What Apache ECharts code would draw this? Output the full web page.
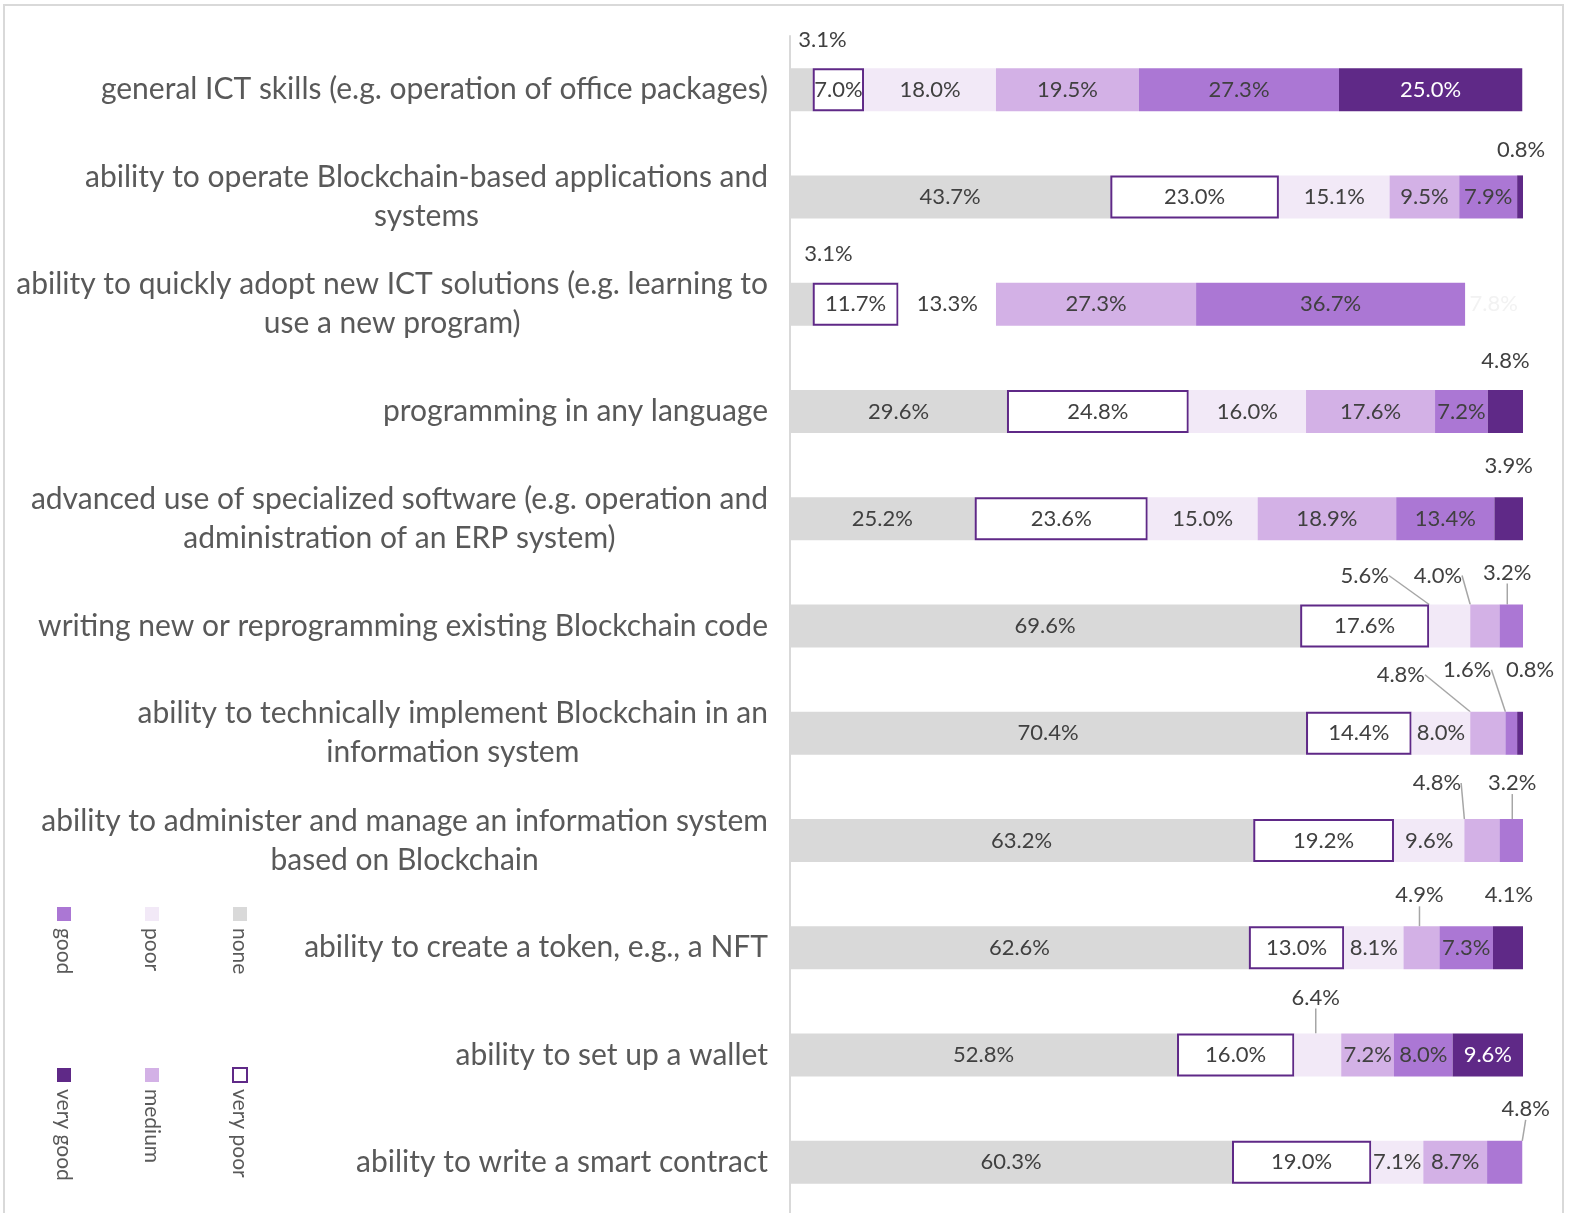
<!DOCTYPE html>
<html>
<head>
<meta charset="utf-8">
<title>ICT skills</title>
<script src="https://cdn.jsdelivr.net/npm/echarts@6/dist/echarts.min.js"></script>
<style>
  html, body { margin: 0; padding: 0; background: #fff; overflow: hidden; }
  #chart { width: 1569px; height: 1222px; }
</style>
</head>
<body>
<div id="chart"></div>
<script>
// categories, top to bottom
const categories = [
  'general ICT skills (e.g. operation of office packages)',
  'ability to operate Blockchain-based applications and\nsystems',
  'ability to quickly adopt new ICT solutions (e.g. learning to\nuse a new program)',
  'programming in any language',
  'advanced use of specialized software (e.g. operation and\nadministration of an ERP system)',
  'writing new or reprogramming existing Blockchain code',
  'ability to technically implement Blockchain in an\ninformation system',
  'ability to administer and manage an information system\nbased on Blockchain',
  'ability to create a token, e.g., a NFT',
  'ability to set up a wallet',
  'ability to write a smart contract'
]
const seriesNames = ['none', 'very poor', 'poor', 'medium', 'good', 'very good']

// shares in %
const noneData = [3.1, 43.7, 3.1, 29.6, 25.2, 69.6, 70.4, 63.2, 62.6, 52.8, 60.3]
const veryPoorData = [7.0, 23.0, 11.7, 24.8, 23.6, 17.6, 14.4, 19.2, 13.0, 16.0, 19.0]
const poorData = [18.0, 15.1, 13.3, 16.0, 15.0, 5.6, 8.0, 9.6, 8.1, 6.4, 7.1]
const mediumData = [19.5, 9.5, 27.3, 17.6, 18.9, 4.0, 4.8, 4.8, 4.9, 7.2, 8.7]
const goodData = [27.3, 7.9, 36.7, 7.2, 13.4, 3.2, 1.6, 3.2, 7.3, 8.0, 4.8]
const veryGoodData = [25.0, 0.8, 7.8, 4.8, 3.9, 0, 0.8, 0, 4.1, 9.6, 0]

const colors = ['#d9d9d9', '#ffffff', '#f2e9f7', '#d3b1e6', '#ab77d4', '#5f2987']

// labels moved out of small segments: 'series-row': [dx, dy, leader line]
const moved = {
  '0-0': [21, -28, false],
  '5-1': [1, -26, false],
  '0-2': [27, -29, false],
  '5-3': [0, -29, false],
  '5-4': [0, -31, false],
  '2-5': [-85, -29, true],
  '3-5': [-47, -29, true],
  '4-5': [-4, -32, true],
  '3-6': [-87, -37, true],
  '4-6': [-44, -42, true],
  '5-6': [10, -42, false],
  '3-7': [-45, -36, true],
  '4-7': [1, -36, true],
  '3-8': [-2, -31, true],
  '5-8': [1, -31, false],
  '2-9': [-2, -36, true],
  '4-10': [21, -32, true]
}

const allData = [noneData, veryPoorData, poorData, mediumData, goodData, veryGoodData]

const chart = echarts.init(document.getElementById('chart'))

const series = seriesNames.map(function (name, s) {
  return {
    name: name,
    type: 'bar',
    stack: 'total',
    barWidth: 43,
    itemStyle: s === 1
      ? { color: '#ffffff', borderColor: '#5f2987', borderWidth: 2 }
      : { color: colors[s] },
    label: {
      show: true,
      position: 'inside',
      fontFamily: 'Lato',
      fontSize: 22,
      color: s === 5 ? '#ffffff' : '#404040',
      formatter: function (p) {
        return p.value ? p.value.toFixed(1) + '%' : ''
      }
    },
    labelLine: {
      show: false,
      lineStyle: { color: '#a6a6a6', width: 1.5 }
    },
    data: allData[s].map(function (v, i) {
      const item = { value: v }
      const m = moved[s + '-' + i]
      if (m) {
        item.label = { color: '#404040' }
        item.labelLine = { show: m[2] }
      }
      // the "adopt new ICT" row is drawn without fill for poor / very good
      if (i === 2 && s === 2) item.itemStyle = { color: '#ffffff' }
      if (i === 2 && s === 5) {
        item.itemStyle = { color: 'rgba(0,0,0,0)' }
        item.label = { color: '#f2f2f2' }
      }
      return item
    }),
    labelLayout: function (params) {
      const m = moved[params.seriesIndex + '-' + params.dataIndex]
      if (!m) return {}
      return {
        x: params.rect.x + params.rect.width / 2 + m[0],
        y: params.rect.y + m[1],
        align: 'center',
        verticalAlign: 'middle'
      }
    }
  }
})

// legend drawn by hand, text runs downwards
const legendCols = [64, 152, 240]
const legendRows = [914, 1075]
const legendOrder = [4, 2, 0, 5, 3, 1]
const legendItems = []
legendOrder.forEach(function (s, k) {
  const x = legendCols[k % 3]
  const y = legendRows[Math.floor(k / 3)]
  legendItems.push({
    type: 'rect',
    shape: { x: x - 7, y: y - 7, width: 14, height: 14 },
    style: s === 1
      ? { fill: '#ffffff', stroke: '#5f2987', lineWidth: 2 }
      : { fill: colors[s] }
  })
  legendItems.push({
    type: 'text',
    x: x,
    y: y + 14,
    rotation: -Math.PI / 2,
    style: {
      text: seriesNames[s],
      fontFamily: 'Lato',
      fontSize: 21,
      fill: '#595959',
      align: 'left',
      verticalAlign: 'middle'
    }
  })
})

const option = {
  animation: false,
  backgroundColor: '#ffffff',
  grid: {
    left: 790,
    top: 36,
    width: 733,
    height: 1180,
    containLabel: false
  },
  xAxis: {
    type: 'value',
    min: 0,
    max: 100,
    show: false
  },
  yAxis: {
    type: 'category',
    inverse: true,
    data: categories,
    axisLine: { show: true, lineStyle: { color: '#d9d9d9', width: 2 } },
    axisTick: { show: false },
    axisLabel: {
      margin: 22,
      align: 'right',
      fontFamily: 'Lato',
      fontSize: 30,
      lineHeight: 39,
      color: '#595959',
      formatter: function (v) {
        return v.split('\n').map(function (l) { return '{c|' + l + '}' }).join('\n')
      },
      rich: {
        c: { align: 'center', fontFamily: 'Lato', fontSize: 30, lineHeight: 39, color: '#595959' }
      }
    }
  },
  graphic: [
    {
      type: 'rect',
      shape: { x: 4, y: 5, width: 1559, height: 1230 },
      style: { fill: 'none', stroke: '#d9d9d9', lineWidth: 2 },
      z: -1
    }
  ].concat(legendItems),
  series: series
}

chart.setOption(option)
window.addEventListener('resize', function () {
  chart.resize()
})
</script>
</body>
</html>
